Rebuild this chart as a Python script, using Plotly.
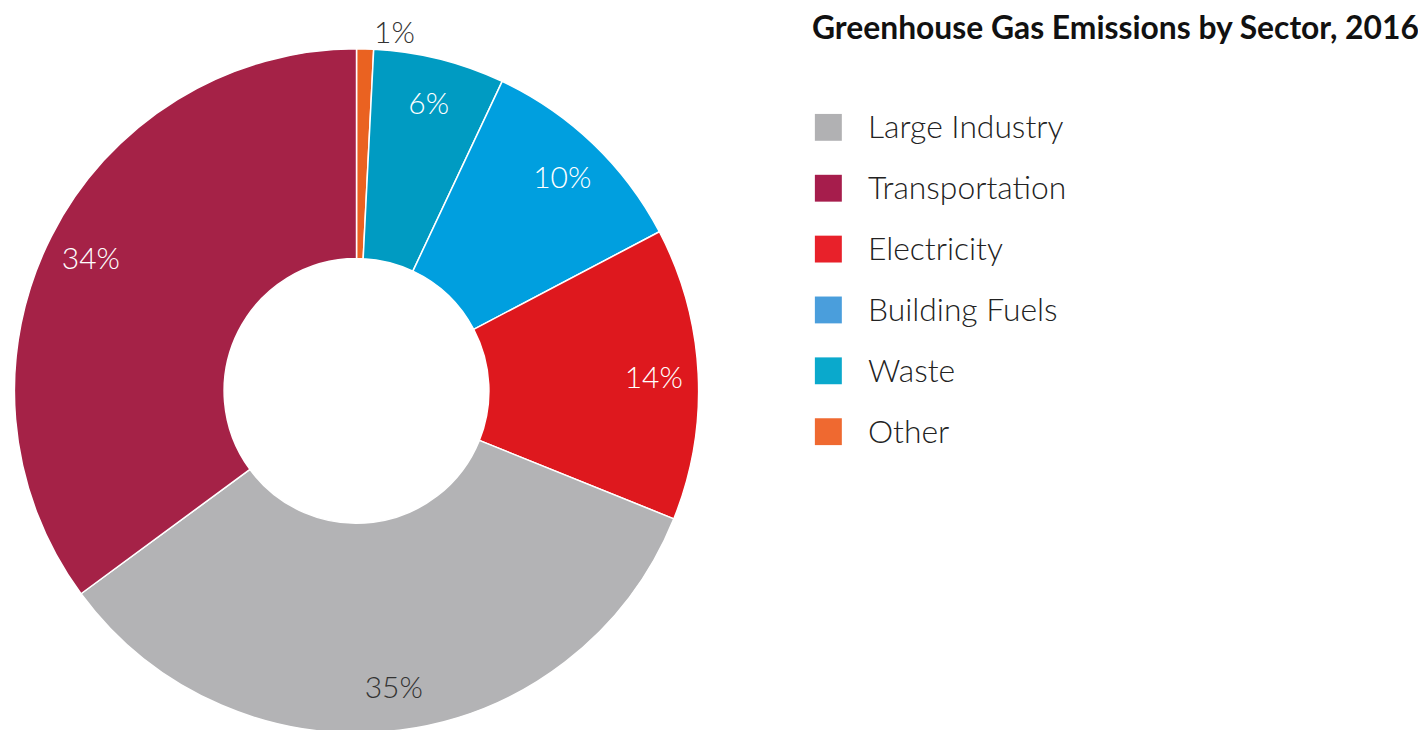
import plotly.graph_objects as go

# Slice order as drawn, clockwise from 12 o'clock
slice_labels = ["Other", "Waste", "Building Fuels", "Electricity", "Large Industry", "Transportation"]
slice_values = [0.8, 6.2, 10.3, 13.8, 33.8, 35.1]
slice_text = ["1%", "6%", "10%", "14%", "35%", "34%"]
slice_colors = ["#EA6221", "#009BC2", "#009FDF", "#DE181E", "#B3B3B5", "#A52247"]
slice_text_colors = ["#333333", "#FFFFFF", "#FFFFFF", "#FFFFFF", "#333333", "#FFFFFF"]
slice_text_pos = ["outside", "inside", "inside", "inside", "inside", "inside"]

# Legend order and swatch colours
legend_labels = ["Large Industry", "Transportation", "Electricity", "Building Fuels", "Waste", "Other"]
legend_colors = ["#B1B1B3", "#A61D4C", "#E8212A", "#4A9EDC", "#0AA9CC", "#EF6930"]

title_text = "Greenhouse Gas Emissions by Sector, 2016"

W, H = 1426, 730
OFF = 8  # page body margin
cx, cy, r = 355 - OFF, 390 - OFF, 344
dom = dict(x=[max(0, (cx - r) / W), (cx + r) / W], y=[max(0, (H - cy - r) / H), min(1, (H - cy + r) / H)])

fig = go.Figure()
# the donut itself
fig.add_trace(go.Pie(
    labels=slice_labels,
    values=slice_values,
    textinfo="none",
    marker=dict(colors=slice_colors, line=dict(color="#FFFFFF", width=1.5)),
    hole=0.387,
    sort=False,
    direction="clockwise",
    rotation=0,
    showlegend=False,
    hoverinfo="label+percent",
    domain=dom,
))
# transparent outer ring carrying the percentage labels near the rim
fig.add_trace(go.Pie(
    labels=slice_labels,
    values=slice_values,
    text=slice_text,
    textinfo="text",
    textposition=slice_text_pos,
    insidetextorientation="horizontal",
    textfont=dict(family="Lato", size=30, color=slice_text_colors, weight=300),
    marker=dict(colors=["rgba(0,0,0,0)"] * len(slice_values), line=dict(width=0)),
    hole=0.74,
    sort=False,
    direction="clockwise",
    rotation=0,
    showlegend=False,
    hoverinfo="skip",
    domain=dom,
))

shapes = []
annotations = [dict(
    text="<b>" + title_text + "</b>", x=(815 - OFF - 6) / W, y=1 - (24 - OFF) / H,
    xref="paper", yref="paper", xanchor="left", yanchor="middle", showarrow=False,
    font=dict(family="Lato", size=31.8, color="#111111"),
)]
for i, (lab, col) in enumerate(zip(legend_labels, legend_colors)):
    yc = 127 - OFF + i * 61.2
    shapes.append(dict(type="rect", xref="paper", yref="paper",
                       x0=(814 - OFF) / W, x1=(841 - OFF) / W,
                       y0=1 - (yc - 2 + 13.5) / H, y1=1 - (yc - 2 - 13.5) / H,
                       fillcolor=col, line=dict(width=0)))
    annotations.append(dict(text=lab, x=(869 - OFF - 4) / W, y=1 - (yc - 3) / H,
                            xref="paper", yref="paper",
                            xanchor="left", yanchor="middle", showarrow=False,
                            font=dict(family="Lato", size=31.8, color="#222222", weight=300)))

fig.update_layout(
    width=W, height=H,
    margin=dict(l=0, r=0, t=0, b=0),
    paper_bgcolor="white", plot_bgcolor="white",
    shapes=shapes, annotations=annotations,
)
fig.write_html("out.html")
